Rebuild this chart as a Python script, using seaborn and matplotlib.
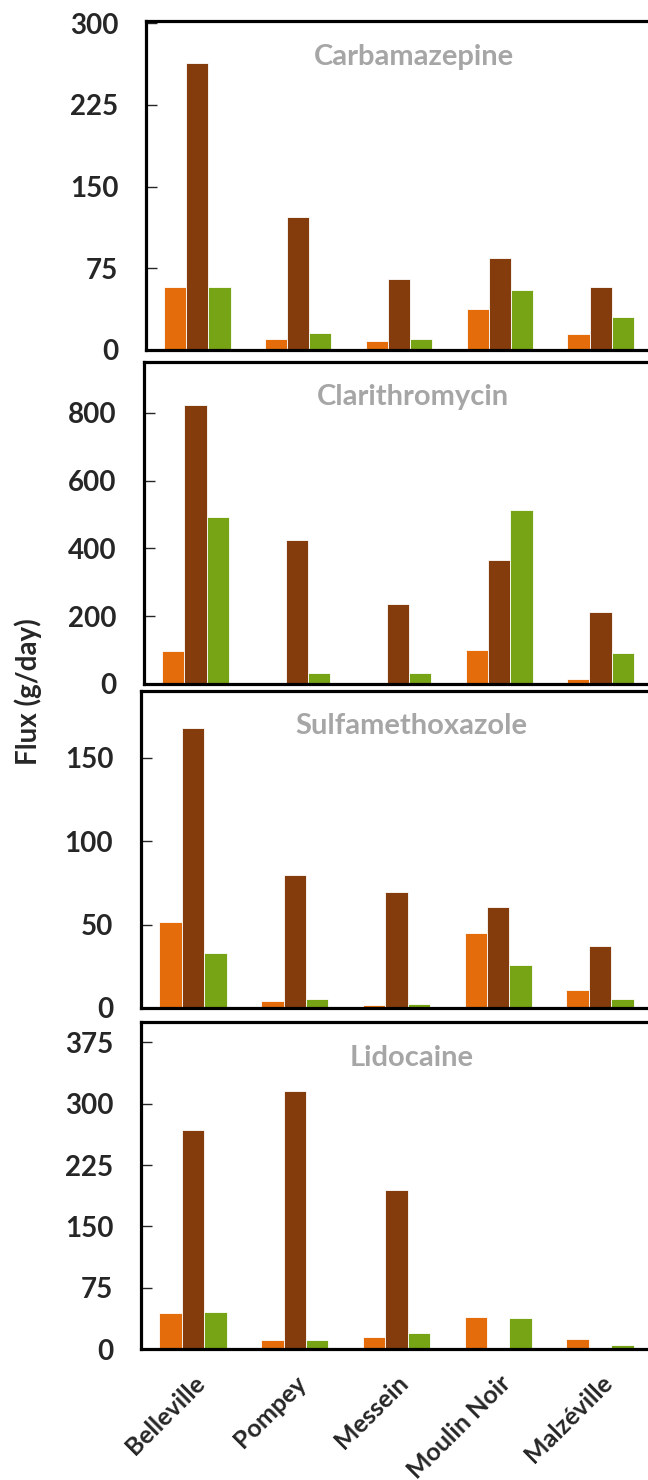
import numpy as np
import pandas as pd
import seaborn as sns
import matplotlib.pyplot as plt

sites = ["Belleville", "Pompey", "Messein", "Moulin Noir", "Malzéville"]
series = ["S1", "S2", "S3"]
colors = ["#E46C0A", "#843C0C", "#77A415"]

compounds = ["Carbamazepine", "Clarithromycin", "Sulfamethoxazole", "Lidocaine"]

carba_s1 = [58, 10, 8, 38, 15]
carba_s2 = [263, 122, 65, 84, 58]
carba_s3 = [58, 16, 10, 55, 30]

clari_s1 = [96, 0, 0, 100, 16]
clari_s2 = [824, 426, 236, 366, 212]
clari_s3 = [494, 32, 32, 513, 92]

sulfa_s1 = [51.5, 4, 1.8, 44.7, 10.8]
sulfa_s2 = [168, 80, 69.4, 60.8, 36.9]
sulfa_s3 = [33, 5.4, 2.6, 25.5, 5.4]

lido_s1 = [43.6, 11, 14.3, 39.5, 12.6]
lido_s2 = [268, 315, 194, 0, 0]
lido_s3 = [45.6, 11, 19, 37.5, 4.9]

values = {
    "Carbamazepine": [carba_s1, carba_s2, carba_s3],
    "Clarithromycin": [clari_s1, clari_s2, clari_s3],
    "Sulfamethoxazole": [sulfa_s1, sulfa_s2, sulfa_s3],
    "Lidocaine": [lido_s1, lido_s2, lido_s3],
}
yticks = {
    "Carbamazepine": [0, 75, 150, 225, 300],
    "Clarithromycin": [0, 200, 400, 600, 800],
    "Sulfamethoxazole": [0, 50, 100, 150],
    "Lidocaine": [0, 75, 150, 225, 300, 375],
}
ylims = {"Carbamazepine": 302, "Clarithromycin": 950,
         "Sulfamethoxazole": 190, "Lidocaine": 400}

rows = []
for c in compounds:
    for s, vals in zip(series, values[c]):
        for site, v in zip(sites, vals):
            rows.append({"compound": c, "series": s, "site": site, "flux": v})
df = pd.DataFrame(rows)

sns.set_style("white")
plt.rcParams["font.family"] = ["Lato", "DejaVu Sans"]

W, H = 648, 1480
fig = plt.figure(figsize=(W / 100, H / 100), dpi=100)

# pixel boxes: left, top, bottom
boxes = [(146, 21, 350), (144, 362, 684), (141, 691, 1008), (141, 1022, 1349)]

for c, (l, t, b) in zip(compounds, boxes):
    ax = fig.add_axes([l / W, 1 - b / H, (W + 4 - l) / W, (b - t) / H])
    sns.barplot(data=df[df.compound == c], x="site", y="flux", hue="series",
                order=sites, hue_order=series, palette=colors, width=0.66,
                saturation=1, edgecolor="white", linewidth=0.6, legend=False,
                ax=ax)
    ax.set_xlim(-0.51, 4.51)
    ax.set_ylim(0, ylims[c])
    ax.set_yticks(yticks[c])
    ax.set_xlabel("")
    ax.set_ylabel("")
    for sp in ax.spines.values():
        sp.set_visible(True)
        sp.set_color("black")
        sp.set_linewidth(2.3)
    ax.tick_params(axis="y", direction="in", length=8, width=1, pad=20,
                   labelsize=20, left=True)
    ax.tick_params(axis="x", length=0)
    for lab in ax.get_yticklabels():
        lab.set_fontweight("bold")
    ax.text(0.53, 0.89, c, transform=ax.transAxes, ha="center", va="center",
            fontsize=21, fontweight="bold", color="#A6A6A6")
    if c != compounds[-1]:
        ax.set_xticklabels([])
    else:
        ax.set_xticks(range(len(sites)))
        ax.set_xticklabels(sites, rotation=45, ha="right", rotation_mode="anchor",
                           fontsize=18, fontweight="bold")
        ax.tick_params(axis="x", pad=16)

fig.text(28 / W, 1 - 692 / H, "Flux (g/day)", rotation=90, ha="center",
         va="center", fontsize=20, fontweight="bold")

plt.savefig("out.png", dpi=100)
